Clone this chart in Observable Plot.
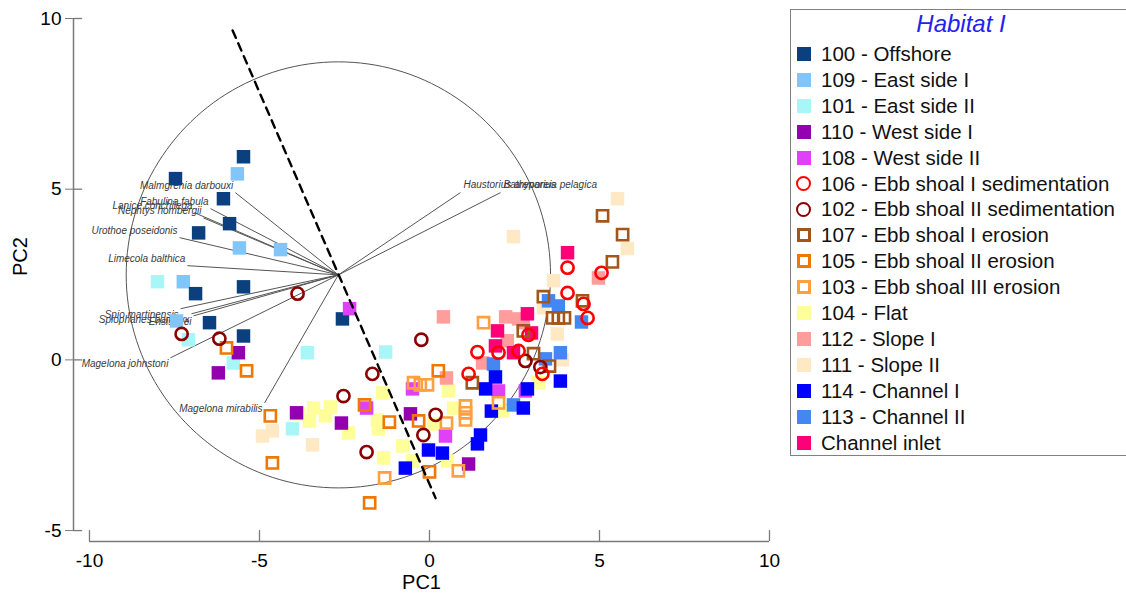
<!DOCTYPE html>
<html><head><meta charset="utf-8">
<script src="https://cdn.jsdelivr.net/npm/d3@7"></script>
<script src="https://cdn.jsdelivr.net/npm/@observablehq/plot@0.6"></script>
<style>
body{margin:0;background:#fff;font-family:"Liberation Sans",Arial,sans-serif;}
#wrap{position:relative;width:1126px;height:599px;overflow:hidden;}
#chart{position:absolute;left:0;top:0;}
#legend{position:absolute;left:790px;top:9px;width:345px;height:447px;border:1px solid #808080;box-sizing:border-box;background:#fff;}
#legend .title{position:absolute;left:0;width:340px;top:0;height:28px;line-height:28px;text-align:center;font-style:italic;font-size:24px;color:#2222f0;}
#legend .row{position:absolute;left:0;height:26px;line-height:26px;font-size:20.5px;color:#111;white-space:nowrap;}
#legend .mk{position:absolute;left:6px;top:6px;width:14px;height:14px;box-sizing:border-box;}
#legend .tx{position:absolute;left:30px;top:0;}
</style></head>
<body><div id="wrap"><div id="chart"></div><div id="legend"></div></div>
<script>
// ---------- Data ----------
const groupCodes = ["100","109","101","110","108","106","102","107","105","103","104","112","111","114","113","inlet"];
const groupNames = ["100 - Offshore","109 - East side I","101 - East side II","110 - West side I","108 - West side II",
  "106 - Ebb shoal I sedimentation","102 - Ebb shoal II sedimentation","107 - Ebb shoal I erosion",
  "105 - Ebb shoal II erosion","103 - Ebb shoal III erosion","104 - Flat","112 - Slope I","111 - Slope II",
  "114 - Channel I","113 - Channel II","Channel inlet"];
const groupColors = ["#0b3f7e","#80c6fa","#a8f6f8","#9200b0","#e040f8","#ff0000","#8a0000","#a4561a",
  "#f07800","#ffa040","#ffff99","#ff9c9c","#ffe8c4","#0000ff","#4486f2","#ff0078"];
const groupMarkers = ["square","square","square","square","square","ring","ring","open","open","open",
  "square","square","square","square","square","square"];

const g100 = [[-5.47,5.95],[-7.47,5.31],[-6.06,4.72],[-5.88,3.99],[-6.79,3.72],[-6.88,1.94],[-5.47,2.14],[-6.47,1.09],[-5.47,0.70],[-2.56,1.20]];
const g109 = [[-5.65,5.45],[-5.59,3.28],[-4.38,3.23],[-7.24,2.29],[-7.44,1.14]];
const g101 = [[-8.00,2.29],[-7.09,0.59],[-5.77,-0.09],[-3.59,0.21],[-1.29,0.23],[-4.03,-2.02]];
const g110 = [[-5.62,0.21],[-6.21,-0.38],[-3.91,-1.55],[-2.59,-1.85],[-0.56,-1.58],[1.15,-3.05]];
const g108 = [[-2.35,1.50],[-1.85,-1.41],[-0.50,-0.85],[0.47,-2.23],[2.03,-0.91],[2.82,-0.91]];
const g106 = [[4.06,2.70],[5.06,2.55],[4.06,1.96],[4.53,1.64],[4.65,1.23],[1.41,0.23],[2.03,0.21],[1.15,-0.41],[2.62,0.26],[2.91,0.73],[3.32,-0.41]];
const g102 = [[-3.88,1.94],[-7.29,0.76],[-6.18,0.62],[-0.24,0.59],[-1.68,-0.41],[-2.53,-1.06],[-1.85,-2.70],[0.18,-1.61],[-0.18,-2.20],[2.82,-0.03],[3.26,-0.21]];
const g107 = [[5.09,4.22],[5.68,3.67],[5.38,2.87],[3.35,1.85],[4.50,1.73],[3.62,1.23],[3.79,1.23],[3.97,1.23],[2.76,0.85],[3.06,0.18],[3.53,-0.18],[1.26,-0.67]];
const g105 = [[-5.97,0.35],[-5.38,-0.32],[-4.68,-1.64],[-4.62,-3.02],[-1.91,-1.32],[-1.18,-1.82],[-0.32,-1.79],[0.00,-3.28],[-1.76,-4.19],[0.26,-0.32]];
const g103 = [[-1.32,-3.46],[0.85,-3.25],[-0.47,-0.67],[-0.27,-0.73],[-0.06,-0.73],[1.06,-1.35],[1.06,-1.55],[1.06,-1.76],[1.59,1.09],[2.03,-1.26],[0.50,-1.85]];
const g104 = [[-3.85,-1.58],[-3.41,-1.41],[-2.91,-1.38],[-3.53,-1.79],[-3.06,-1.64],[-2.38,-2.14],[-1.38,-0.97],[-1.53,-1.76],[-1.50,-2.02],[-0.79,-2.52],[-1.35,-2.87],[-0.50,-2.96],[0.56,-0.91],[0.71,-1.41],[0.12,-1.88],[0.53,-2.96],[2.15,-1.50],[3.21,-0.67]];
const g112 = [[0.41,1.26],[0.50,-0.53],[2.24,1.26],[2.62,1.20],[2.29,0.56],[2.76,1.09],[1.56,-0.09],[4.97,2.40]];
const g111 = [[5.53,4.72],[5.82,3.26],[2.47,3.61],[3.65,2.32],[3.35,1.53],[3.76,0.76],[3.91,0.00],[-4.91,-2.23],[-4.62,-2.08],[-3.44,-2.49]];
const g114 = [[3.85,-0.62],[1.94,-0.50],[1.65,-0.85],[2.88,-0.85],[1.82,-1.50],[2.76,-1.41],[1.50,-2.20],[1.41,-2.46],[-0.03,-2.64],[0.38,-2.73],[-0.71,-3.17]];
const g113 = [[3.50,1.73],[3.79,1.58],[4.47,1.11],[3.85,0.21],[3.41,0.03],[2.47,-1.32],[1.88,-0.12]];
const gInlet = [[4.06,3.14],[2.88,1.35],[2.00,0.85],[3.00,0.79],[1.94,0.41],[2.47,0.21]];
const groupPoints = [g100,g109,g101,g110,g108,g106,g102,g107,g105,g103,g104,g112,g111,g114,g113,gInlet];

// species vectors (end points) and their common origin
const speciesNames = ["Malmgrenia darbouxi","Fabulina fabula","Lanice conchilega","Nephtys hombergii","Urothoe poseidonis",
  "Limecola balthica","Spio martinensis","Spiophanes bombyx","Ensis leei","Magelona johnstoni","Magelona mirabilis",
  "Haustorius arenarius","Bathyporeia pelagica"];
const speciesX = [-5.71,-6.44,-6.91,-6.65,-7.35,-7.12,-7.32,-7.00,-6.94,-7.62,-4.85,0.91,2.09];
const speciesY = [4.90,4.43,4.31,4.16,3.58,2.76,1.50,1.35,1.29,0.06,-1.26,4.90,4.90];
const vectorOrigin = [-2.68, 2.49];
const circleRadius = 6.24;
const dashedLineX = [-5.79, 0.18];
const dashedLineY = [9.65, -4.05];

const xTicks = [-10,-5,0,5,10];
const yTicks = [-5,0,5,10];
const xDomain = [-10.47, 10];
const yDomain = [-5.32, 10];

// ---------- Build ----------
const drawOrder = ["104","111","112","101","109","100","110","108","113","114","inlet","103","105","107","102","106"];
const groupMarks = drawOrder.map(code => {
  const i = groupCodes.indexOf(code);
  const pts = groupPoints[i].map(([x,y]) => ({x,y}));
  const color = groupColors[i], m = groupMarkers[i];
  if (m === "square") return Plot.dot(pts, {x:"x", y:"y", symbol:"square", r:7.6, fill:color, stroke:"none"});
  if (m === "open") return Plot.dot(pts, {x:"x", y:"y", symbol:"square", r:6.3, fill:"none", stroke:color, strokeWidth:2.6});
  return Plot.dot(pts, {x:"x", y:"y", symbol:"circle", r:6.1, fill:"none", stroke:color, strokeWidth:2.6});
});

const species = speciesNames.map((name,i) => ({name, x:speciesX[i], y:speciesY[i]}));
const circlePts = d3.range(0, 361, 2).map(a => ({
  x: vectorOrigin[0] + circleRadius*Math.cos(a*Math.PI/180),
  y: vectorOrigin[1] + circleRadius*Math.sin(a*Math.PI/180)
}));
const dashPts = dashedLineX.map((x,i) => ({x, y:dashedLineY[i]}));

const labelFont = {fontSize:10, fontStyle:"italic", fill:"#3a3a3a", fontFamily:"Liberation Sans, Arial, sans-serif"};

const chart = Plot.plot({
  width: 780, height: 599,
  marginLeft: 73, marginRight: 11, marginTop: 18, marginBottom: 58,
  x: {domain: xDomain},
  y: {domain: yDomain},
  style: {fontFamily: "Liberation Sans, Arial, sans-serif", background: "white", overflow: "visible"},
  marks: [
    // axes
    Plot.ruleX([xDomain[0]], {y1: yTicks[0], y2: yTicks[yTicks.length-1], stroke:"#7a7a7a", strokeWidth:1.5}),
    Plot.ruleY(yTicks, {x1: xDomain[0], x2: xDomain[0] + 0.27, stroke:"#7a7a7a", strokeWidth:1.3}),
    Plot.axisY({ticks: yTicks, tickSize: 8, tickPadding: 4, fontSize: 19, stroke:"#7a7a7a", fill:"black", label:null, tickFormat: d => String(d)}),
    Plot.ruleY([yDomain[0]], {x1: xTicks[0], x2: xTicks[xTicks.length-1], stroke:"#7a7a7a", strokeWidth:1.5}),
    Plot.ruleX(xTicks, {y1: yDomain[0], y2: yDomain[0] + 0.32, stroke:"#7a7a7a", strokeWidth:1.3}),
    Plot.axisX({ticks: xTicks, tickSize: 0, tickPadding: 12, fontSize: 19, fill:"black", label:null, tickFormat: d => String(d)}),
    Plot.text(["PC1"], {frameAnchor:"bottom", dy: 47, fontSize: 20, fill:"black"}),
    Plot.text(["PC2"], {frameAnchor:"left", dx: -53, dy: -4, rotate: -90, fontSize: 20, fill:"black"}),
    // correlation circle and vectors
    Plot.line(circlePts, {x:"x", y:"y", stroke:"#555", strokeWidth:1}),
    Plot.link(species, {x1: () => vectorOrigin[0], y1: () => vectorOrigin[1], x2:"x", y2:"y", stroke:"#555", strokeWidth:1}),
    Plot.text(species, {filter: d => d.x < vectorOrigin[0] && d.y >= vectorOrigin[1], x:"x", y:"y", text:"name", textAnchor:"end", dx:-2, dy:-7, ...labelFont}),
    Plot.text(species, {filter: d => d.x < vectorOrigin[0] && d.y < vectorOrigin[1], x:"x", y:"y", text:"name", textAnchor:"end", dx:-2, dy:6, ...labelFont}),
    Plot.text(species, {filter: d => d.x > vectorOrigin[0], x:"x", y:"y", text:"name", textAnchor:"start", dx:3, dy:-8, ...labelFont}),
    // samples
    ...groupMarks,
    // dashed line
    Plot.line(dashPts, {x:"x", y:"y", stroke:"black", strokeWidth:2.4, strokeDasharray:"8,6"})
  ]
});
document.getElementById("chart").appendChild(chart);

// ---------- Legend ----------
const legend = d3.select("#legend");
legend.append("div").attr("class","title").text("Habitat I");
groupCodes.forEach((code, i) => {
  const row = legend.append("div").attr("class","row").style("top", (31 + i*25.9) + "px");
  const mk = row.append("span").attr("class","mk");
  const m = groupMarkers[i], c = groupColors[i];
  if (m === "square") mk.style("background", c);
  else if (m === "open") mk.style("border", `3px solid ${c}`);
  else mk.style("border", `2.6px solid ${c}`).style("border-radius","50%").style("width","15px").style("height","15px").style("left","5px").style("top","5.5px");
  row.append("span").attr("class","tx").text(groupNames[i]);
});
</script>
</body></html>
